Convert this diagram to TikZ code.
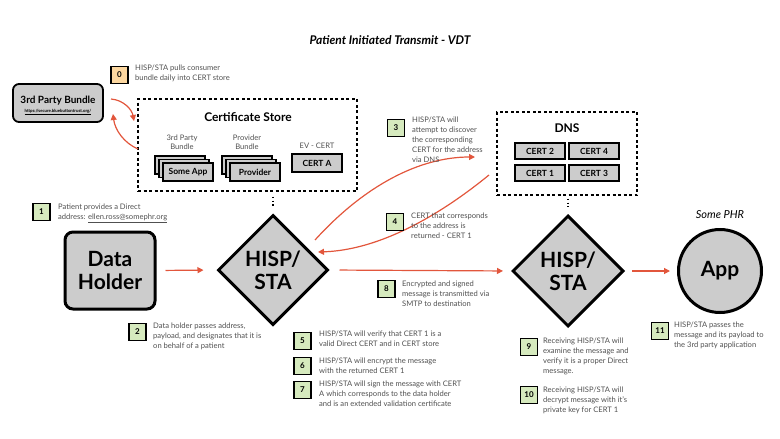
\documentclass[tikz,border=0pt]{standalone}
\usepackage{fontspec}
\setmainfont{Lato}
\usetikzlibrary{shapes.geometric,arrows.meta}
\definecolor{arr}{RGB}{226,86,60}
\definecolor{boxgray}{RGB}{204,204,204}
\definecolor{numgreen}{RGB}{214,234,190}
\definecolor{numorange}{RGB}{252,215,160}
\definecolor{txt}{RGB}{80,80,80}
\begin{document}
\begin{tikzpicture}[x=1pt,y=-1pt,
  numbox/.style={draw=black,line width=1.2pt,fill=numgreen,minimum width=17pt,minimum height=17pt,inner sep=0pt,font=\fontsize{8}{9}\selectfont\bfseries},
  note/.style={anchor=north west,inner sep=0pt,align=left,text=txt,font=\fontsize{7.6}{10}\selectfont},
  cert/.style={draw=black,line width=1.3pt,fill=boxgray,minimum width=50pt,minimum height=16pt,inner sep=0pt,font=\fontsize{8.5}{10}\selectfont\bfseries},
  bigshape/.style={draw=black,line width=3pt,fill=boxgray,font=\fontsize{21}{23}\selectfont\bfseries,align=center,inner sep=0pt},
  dashbox/.style={draw=black,line width=1.5pt,dash pattern=on 3pt off 2.5pt,inner sep=0pt},
  flow/.style={draw=arr,line width=1.2pt,-{Triangle[length=6pt,width=6pt]}},
  dotline/.style={draw=black,line width=1.3pt,dash pattern=on 1.3pt off 2.5pt},
  sub/.style={text=txt,align=center,inner sep=0pt,font=\fontsize{7.6}{9}\selectfont}
]
\useasboundingbox (0,0) rectangle (780,439);

\node[font=\fontsize{12}{14}\selectfont\bfseries\itshape] (title) at (390,40) {Patient Initiated Transmit - VDT};

% 3rd party bundle
\node[draw=black,line width=1.8pt,rounded corners=6pt,fill=boxgray,minimum width=90pt,minimum height=38pt,inner sep=0pt] (bundle) at (58,103) {};
\node[font=\fontsize{10}{12}\selectfont\bfseries] (bundlet) at (58,101) {3rd Party Bundle};
\node[font=\fontsize{4.3}{5}\selectfont\bfseries] (bundleurl) at (58,112) {\underline{https://secure.bluebuttontrust.org/}};

% certificate store
\node[dashbox,minimum width=219pt,minimum height=92pt] (store) at (247.5,145) {};
\node[font=\fontsize{12}{14}\selectfont\bfseries] (storet) at (248,117) {Certificate Store};
\node[sub] (l3p) at (182,142.5) {3rd Party\\Bundle};
\node[sub] (lprov) at (247,142.5) {Provider\\Bundle};
\node[sub] (lev) at (317,146) {EV - CERT};
\node[cert,minimum height=18pt] (sa3) at (180,165) {};
\node[cert,minimum height=18pt] (sa2) at (184,168.5) {};
\node[cert,minimum height=18pt] (sa1) at (188,172) {Some App};
\node[cert,minimum height=18pt] (pr3) at (247,165) {};
\node[cert,minimum height=18pt] (pr2) at (251,168.5) {};
\node[cert,minimum height=18pt] (pr1) at (255,172) {Provider};
\node[cert,minimum height=18pt] (certa) at (317,163) {CERT A};

% DNS
\node[dashbox,minimum width=140pt,minimum height=83pt] (dns) at (567,153.5) {};
\node[font=\fontsize{12}{14}\selectfont\bfseries] (dnst) at (567,128) {DNS};
\node[cert] (c2) at (540,151) {CERT 2};
\node[cert] (c4) at (594,151) {CERT 4};
\node[cert] (c1) at (540,173) {CERT 1};
\node[cert] (c3) at (594,173) {CERT 3};

% main shapes
\node[bigshape,rounded corners=8pt,minimum width=90pt,minimum height=77pt] (holder) at (110,270.5) {Data\\Holder};
\node[bigshape,diamond,minimum width=110pt,minimum height=110pt] (hisp1) at (273,270) {HISP/\\STA};
\node[bigshape,diamond,minimum width=111pt,minimum height=111pt] (hisp2) at (568,271) {HISP/\\STA};
\node[bigshape,circle,minimum size=83pt] (app) at (720,271) {App};
\node[font=\fontsize{11}{13}\selectfont\itshape] (phr) at (720,215) {Some PHR};

% dotted links
\draw[dotline,shorten <=5pt,shorten >=7pt] (hisp1.north |- store.south) -- (hisp1.north);
\draw[dotline,shorten <=3pt,shorten >=7pt] (hisp2.north |- dns.south) -- (hisp2.north);

% flows
\draw[flow,shorten <=9pt,shorten >=13pt] (holder.east) -- (hisp1.west);
\draw[flow,shorten <=10pt,shorten >=8pt] (hisp1.east) -- (hisp2.west);
\draw[flow,shorten <=7pt,shorten >=7pt] (hisp2.east) -- (app.west);

\coordinate (a0s) at (111,99);
\coordinate (a0e) at (134,121);
\coordinate (b0s) at (138,149);
\coordinate (b0e) at (113,114);
\draw[flow] (a0s) .. controls (124,100) and (132,110) .. (a0e);
\draw[flow] (b0s) .. controls (124,143) and (115,130) .. (b0e);

\coordinate (q3s) at (315,240);
\coordinate (q3e) at (475,157);
\coordinate (q4s) at (489,175);
\coordinate (q4e) at (318,252);
\draw[flow] (q3s) .. controls (365,185) and (420,157) .. (q3e);
\draw[flow] (q4s) .. controls (440,215) and (380,250) .. (q4e);

% numbered notes
\node[numbox,fill=numorange] (n0) at (119.5,75) {0};
\node[note] (t0) at (135,65) {HISP/STA pulls consumer\\bundle daily into CERT store};
\node[numbox] (n1) at (41.5,212) {1};
\node[note] (t1) at (58,204) {Patient provides a Direct\\address: \underline{ellen.ross@somephr.org}};
\node[numbox] (n2) at (137.5,332) {2};
\node[note] (t2) at (153,323) {Data holder passes address,\\payload, and designates that it is\\on behalf of a patient};
\node[numbox] (n3) at (396,128) {3};
\node[note] (t3) at (412,117) {HISP/STA will\\attempt to discover\\the corresponding\\CERT for the address\\via DNS};
\node[numbox] (n4) at (395,222) {4};
\node[note] (t4) at (411,213) {CERT that corresponds\\to the address is\\returned - CERT 1};
\node[numbox] (n5) at (302.5,341) {5};
\node[note] (t5) at (319,331) {HISP/STA will verify that CERT 1 is a\\valid Direct CERT and in CERT store};
\node[numbox] (n6) at (302.5,366) {6};
\node[note] (t6) at (319,358) {HISP/STA will encrypt the message\\with the returned CERT 1};
\node[numbox] (n7) at (302.5,390) {7};
\node[note] (t7) at (319,381) {HISP/STA will sign the message with CERT\\A which corresponds to the data holder\\and is an extended validation certificate};
\node[numbox] (n8) at (386.5,289) {8};
\node[note] (t8) at (402,281) {Encrypted and signed\\message is transmitted via\\SMTP to destination};
\node[numbox] (n9) at (529,347) {9};
\node[note] (t9) at (543,338) {Receiving HISP/STA will\\examine the message and\\verify it is a proper Direct\\message.};
\node[numbox] (n10) at (529,395) {10};
\node[note] (t10) at (543,387) {Receiving HISP/STA will\\decrypt message with it's\\private key for CERT 1};
\node[numbox] (n11) at (660,331) {11};
\node[note] (t11) at (674,322) {HISP/STA passes the\\message and its payload to\\the 3rd party application};
\end{tikzpicture}
\end{document}
